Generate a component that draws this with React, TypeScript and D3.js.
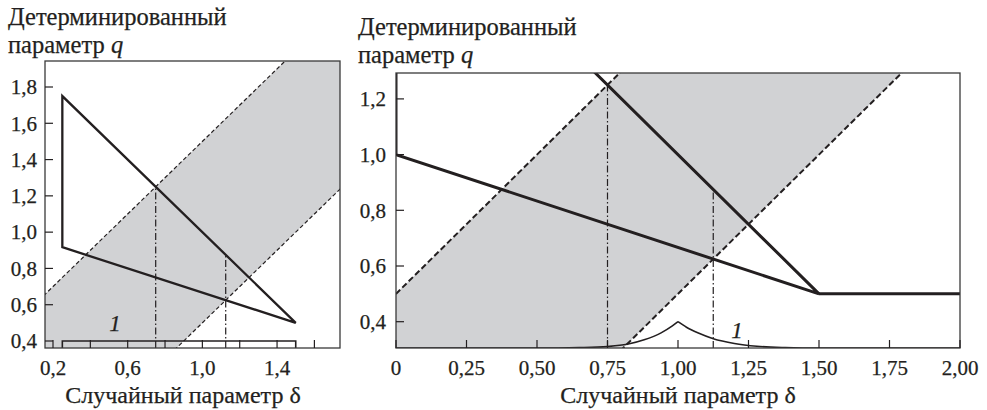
import React from 'react';
import * as d3 from 'd3';

type Pt = [number, number];

// левый график: равномерное распределение δ
const leftXTicks = [0.2, 0.4, 0.6, 0.8, 1.0, 1.2, 1.4, 1.6];
const leftXLabels = ['0,2', '', '0,6', '', '1,0', '', '1,4', ''];
const leftYTicks = [0.4, 0.6, 0.8, 1.0, 1.2, 1.4, 1.6, 1.8];
const leftYLabels = ['0,4', '0,6', '0,8', '1,0', '1,2', '1,4', '1,6', '1,8'];
const leftTriangle: Pt[] = [[0.25, 1.75], [0.25, 0.917], [1.5, 0.5]];
const leftDensity: Pt[] = [[0.25, 0.3], [0.25, 0.4], [1.5, 0.4], [1.5, 0.3]];
const leftDashUpper: Pt[] = [[-0.5, 0], [2.5, 3]];
const leftDashLower: Pt[] = [[0.5, 0], [3.5, 3]];
const leftDashDot: Pt[] = [[0.75, 1.25], [1.125, 0.875]];

// правый график
const rightXTicks = [0, 0.25, 0.5, 0.75, 1.0, 1.25, 1.5, 1.75, 2.0];
const rightXLabels = ['0', '0,25', '0,50', '0,75', '1,00', '1,25', '1,50', '1,75', '2,00'];
const rightYTicks = [0.4, 0.6, 0.8, 1.0, 1.2];
const rightYLabels = ['0,4', '0,6', '0,8', '1,0', '1,2'];
const rightTriangle: Pt[] = [[0, 2], [0, 1], [1.5, 0.5]];
const rightFlat: Pt[] = [[1.5, 0.5], [2.1, 0.5]];
// плотность (кривая 1): левая ветвь до пика и правая ветвь от пика
const rightDensityLeft: Pt[] = [
  [-0.1, 0.305], [0.5, 0.305], [0.65, 0.307], [0.75, 0.311], [0.82, 0.319],
  [0.88, 0.335], [0.94, 0.36], [0.98, 0.385], [1.0, 0.4],
];
const rightDensityRight: Pt[] = [
  [1.0, 0.4], [1.03, 0.38], [1.07, 0.36], [1.125, 0.339], [1.2, 0.322],
  [1.28, 0.312], [1.38, 0.307], [1.5, 0.305], [2.1, 0.305],
];
const rightDashUpper: Pt[] = [[-0.5, 0], [2.5, 3]];
const rightDashLower: Pt[] = [[0.5, 0], [3.5, 3]];
const rightDashDot: Pt[] = [[0.75, 1.25], [1.125, 0.875]];

const INK = '#231f20';
const FILL = '#d1d2d4';
const FONT = 'Liberation Serif';

type PanelProps = {
  id: string;
  frame: { x0: number; x1: number; y0: number; y1: number };
  xDom: number[]; xRng: number[]; yDom: number[]; yRng: number[];
  xTicks: number[]; xLabels: string[]; yTicks: number[]; yLabels: string[];
  triangle: Pt[]; extra?: Pt[]; density: Pt[][]; smooth: boolean;
  dashUpper: Pt[]; dashLower: Pt[]; dashDot: Pt[];
  lineW: number; dashW: number; dashPat: string;
  titleX: number; titleY: number; xTitleX: number; label1: Pt; yLabelGap: number;
};

function Panel(p: PanelProps) {
  const x = d3.scaleLinear().domain(p.xDom).range(p.xRng);
  const y = d3.scaleLinear().domain(p.yDom).range(p.yRng);
  const line = d3.line<Pt>().x(d => x(d[0])).y(d => y(d[1]));
  const curve = d3.line<Pt>().x(d => x(d[0])).y(d => y(d[1]))
    .curve(p.smooth ? d3.curveMonotoneX : d3.curveLinear);
  const f = p.frame;
  const qBottom = y.invert(f.y1);
  const band = [...p.dashUpper, ...p.dashLower.slice().reverse()];
  const txt = { fontFamily: FONT };
  const ink = { fill: INK, stroke: INK, strokeWidth: 0.25 };
  return (
    <g>
      <defs>
        <clipPath id={p.id}>
          <rect x={f.x0} y={f.y0} width={f.x1 - f.x0} height={f.y1 - f.y0} />
        </clipPath>
      </defs>
      <g clipPath={`url(#${p.id})`}>
        <path d={line(band) + 'Z'} fill={FILL} />
        <path d={line(p.dashUpper)!} fill="none" stroke={INK} strokeWidth={p.dashW} strokeDasharray={p.dashPat} />
        <path d={line(p.dashLower)!} fill="none" stroke={INK} strokeWidth={p.dashW} strokeDasharray={p.dashPat} />
        {p.dashDot.map((d, i) => (
          <path key={i} d={line([[d[0], qBottom], d])!} fill="none" stroke={INK} strokeWidth={1.2}
            strokeDasharray="7,2.5,1.5,2.5" />
        ))}
        {p.density.map((seg, i) => (
          <path key={'d' + i} d={curve(seg)!} fill="none" stroke={INK} strokeWidth={1.6} />
        ))}
        <path d={line(p.triangle) + 'Z'} fill="none" stroke={INK} strokeWidth={p.lineW} strokeLinejoin="miter" />
        {p.extra && <path d={line(p.extra)!} fill="none" stroke={INK} strokeWidth={p.lineW} />}
      </g>
      <rect x={f.x0} y={f.y0} width={f.x1 - f.x0} height={f.y1 - f.y0} fill="none" stroke="#3a3a3a" strokeWidth={1.3} />
      <g style={txt} {...ink}>
        {p.xTicks.map((t, i) => (
          <g key={'x' + i}>
            <line x1={x(t)} x2={x(t)} y1={f.y1} y2={f.y1 - 8} stroke={INK} strokeWidth={1.2} />
            {p.xLabels[i] && (
              <text x={x(t)} y={375} textAnchor="middle" fontSize={21}>{p.xLabels[i]}</text>
            )}
          </g>
        ))}
        {p.yTicks.map((t, i) => (
          <g key={'y' + i}>
            <line x1={f.x0} x2={f.x0 + 8} y1={y(t)} y2={y(t)} stroke={INK} strokeWidth={1.2} />
            <text x={f.x0 - p.yLabelGap} y={y(t)} dy="0.35em" textAnchor="end" fontSize={21}>{p.yLabels[i]}</text>
          </g>
        ))}
        <text x={p.label1[0]} y={p.label1[1]} dy="0.35em" textAnchor="middle" fontSize={23} fontStyle="italic">1</text>
        <text x={p.titleX} y={p.titleY} fontSize={24.5}>Детерминированный</text>
        <text x={p.titleX} y={p.titleY + 28} fontSize={24.5}>
          параметр <tspan fontStyle="italic">q</tspan>
        </text>
        <text x={p.xTitleX} y={403} textAnchor="middle" fontSize={24}>Случайный параметр δ</text>
      </g>
    </g>
  );
}

export default function App() {
  return (
    <svg width={987} height={410} style={{ position: 'absolute', left: 0, top: 0, background: '#fff' }}>
      <rect width={987} height={410} fill="#fff" />
      <Panel id="clipL" frame={{ x0: 45, x1: 340, y0: 61, y1: 348 }}
        xDom={[0.2, 1.6]} xRng={[53, 314.4]} yDom={[0.4, 1.8]} yRng={[341, 87]}
        xTicks={leftXTicks} xLabels={leftXLabels} yTicks={leftYTicks} yLabels={leftYLabels}
        triangle={leftTriangle} density={[leftDensity]} smooth={false}
        dashUpper={leftDashUpper} dashLower={leftDashLower} dashDot={leftDashDot}
        lineW={2.3} dashW={1.2} dashPat="4,2.5"
        titleX={8} titleY={25} xTitleX={183} label1={[115, 323]} yLabelGap={8} />
      <Panel id="clipR" frame={{ x0: 396, x1: 960, y0: 73, y1: 348 }}
        xDom={[0, 2]} xRng={[396, 960]} yDom={[0.4, 1.2]} yRng={[321.7, 98.9]}
        xTicks={rightXTicks} xLabels={rightXLabels} yTicks={rightYTicks} yLabels={rightYLabels}
        triangle={rightTriangle} extra={rightFlat} density={[rightDensityLeft, rightDensityRight]} smooth={true}
        dashUpper={rightDashUpper} dashLower={rightDashLower} dashDot={rightDashDot}
        lineW={3} dashW={2} dashPat="6,3"
        titleX={358} titleY={35} xTitleX={678} label1={[737, 330]} yLabelGap={10} />
    </svg>
  );
}
